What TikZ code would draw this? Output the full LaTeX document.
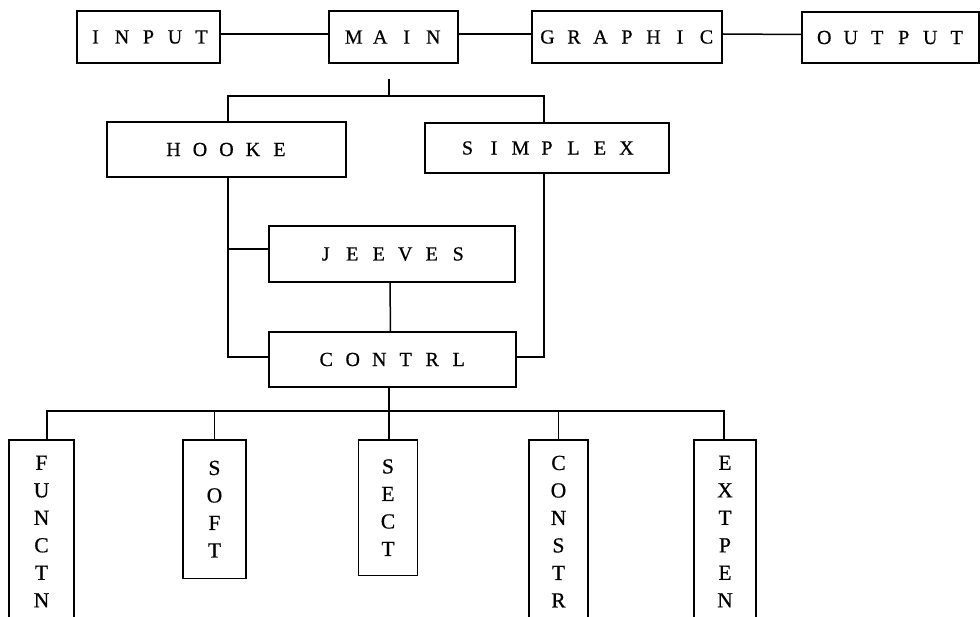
\documentclass[tikz,border=0pt]{standalone}
\usepackage{fontspec}
\setmainfont{Liberation Serif}[FakeBold=0.6]
% letter-spaced labels: every letter sits in a box of fixed pitch
\newlength\lpitch
\setlength\lpitch{26.5pt}
\def\spread#1{\spreadloop#1\relax}
\def\spreadloop#1{\ifx#1\relax\else\makebox[\lpitch]{#1}\expandafter\spreadloop\fi}
\tikzset{
  link/.style={line width=1.5pt},
  hbox/.style={draw, line width=1.5pt, inner sep=0pt,
    font=\fontsize{20}{23}\selectfont, minimum height=52pt},
  vbox/.style={draw, line width=1.5pt, anchor=north, align=center,
    inner xsep=0pt, font=\fontsize{21.5}{27.5}\selectfont},
}
\begin{document}
\begin{tikzpicture}[x=1pt,y=-1pt]
\clip (0,0) rectangle (980,617);

% top row
\node[hbox, minimum width=143pt] (input) at (148.5,37) {\spread{INPUT}};
\node[hbox, minimum width=129pt] (main) at (393.5,37) {\spread{MAIN}};
\node[hbox, minimum width=190pt] (graphic) at (627,37) {\spread{GRAPHIC}};
\node[hbox, minimum width=177pt, minimum height=51pt] (output) at (890.5,37.5) {\spread{OUTPUT}};

% search routines
\node[hbox, minimum width=239pt, minimum height=55pt] (hooke) at (226.5,149.5) {\spread{HOOKE}};
\node[hbox, minimum width=244pt, minimum height=50pt] (simplex) at (547,148) {\spread{SIMPLEX}};
\node[hbox, minimum width=246pt, minimum height=56pt] (jeeves) at (392,254) {\spread{JEEVES}};
\node[hbox, minimum width=247pt, minimum height=55pt] (contrl) at (392.5,359.5) {\spread{CONTRL}};

% subroutines with vertical labels
\node[vbox, minimum width=65pt, inner ysep=16pt] (functn) at (41.5,439) {F\\U\\N\\C\\T\\N};
\node[vbox, minimum width=63pt, inner ysep=21pt] (soft) at (214.5,439) {S\\O\\F\\T};
\node[vbox, minimum width=59pt, inner ysep=19.5pt] (sect) at (388,439) {S\\E\\C\\T};
\node[vbox, minimum width=59pt, inner ysep=16pt] (constr) at (558.5,439) {C\\O\\N\\S\\T\\R};
\node[vbox, minimum width=62pt, inner ysep=16pt] (extpen) at (725,439) {E\\X\\T\\P\\E\\N};

% bus junctions
\coordinate (mainbus) at (389,96);
\coordinate (lowbus) at (389,411);

% connectors
\draw[link] ([yshift=3pt]input.east) -- ([yshift=3pt]main.west);
\draw[link] ([yshift=3pt]main.east) -- ([yshift=3pt]graphic.west);
\draw[link] ([yshift=3pt]graphic.east) -- ([yshift=3pt]output.west);
\draw[link] ([xshift=-4.5pt,yshift=-15pt]main.south) -- (mainbus);
\draw[link] ([xshift=1.5pt]hooke.north) |- (mainbus) -| ([xshift=-3pt]simplex.north);
\draw[link] ([xshift=1.5pt]hooke.south) |- ([yshift=2.5pt]contrl.west);
\draw[link] ([xshift=1.5pt]hooke.south) |- ([yshift=5pt]jeeves.west);
\draw[link] ([xshift=-3pt]simplex.south) |- ([yshift=2.5pt]contrl.east);
\draw[link] ([xshift=-2pt]jeeves.south) -- ([xshift=-2pt]contrl.north);
\draw[link] (contrl.south -| lowbus) -- (sect.north -| lowbus);
\draw[link] ([xshift=5.5pt]functn.north) |- (lowbus) -| ([xshift=-1pt]extpen.north);
\draw[link] (soft.north) -- (soft.north |- lowbus);
\draw[link] (constr.north) -- (constr.north |- lowbus);
\end{tikzpicture}
\end{document}
